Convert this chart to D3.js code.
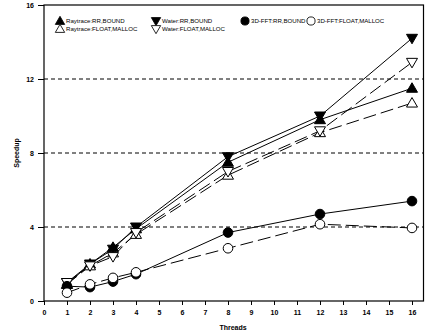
<!DOCTYPE html>
<html>
<head>
<meta charset="utf-8">
<script src="https://cdn.jsdelivr.net/npm/d3@7"></script>
<style>
  html, body { margin: 0; padding: 0; background: #fff; }
  svg { display: block; }
  text { font-family: "Liberation Sans", Arial, sans-serif; fill: #000; }
</style>
</head>
<body>
<svg id="chart" width="432" height="336"></svg>
<script>
// Thread counts measured
const threads = [1, 2, 3, 4, 8, 12, 16];

// Speedup per benchmark / configuration
const raytraceRR    = [0.9, 2.0, 2.9, 3.9, 7.5, 9.8, 11.5];
const raytraceFloat = [0.9, 1.9, 2.6, 3.6, 6.8, 9.1, 10.7];
const waterRR       = [1.0, 2.0, 2.8, 4.0, 7.8, 10.0, 14.2];
const waterFloat    = [1.0, 1.9, 2.4, 3.7, 7.0, 9.2, 12.9];
const fftRR         = [0.8, 0.75, 1.05, 1.45, 3.7, 4.7, 5.4];
const fftFloat      = [0.45, 0.9, 1.25, 1.55, 2.85, 4.15, 3.95];

const seriesNames = [
  "Raytrace:RR,BOUND", "Raytrace:FLOAT,MALLOC",
  "Water:RR,BOUND", "Water:FLOAT,MALLOC",
  "3D-FFT:RR,BOUND", "3D-FFT:FLOAT,MALLOC"
];

const xTicks = d3.range(0, 17);
const yTicks = [0, 4, 8, 12, 16];

const series = [
  { name: seriesNames[0], values: raytraceRR,    shape: "up",     fill: "#000", dash: null },
  { name: seriesNames[1], values: raytraceFloat, shape: "up",     fill: "#fff", dash: "13,5" },
  { name: seriesNames[2], values: waterRR,       shape: "down",   fill: "#000", dash: null },
  { name: seriesNames[3], values: waterFloat,    shape: "down",   fill: "#fff", dash: "13,5" },
  { name: seriesNames[4], values: fftRR,         shape: "circle", fill: "#000", dash: null },
  { name: seriesNames[5], values: fftFloat,      shape: "circle", fill: "#fff", dash: "13,5" }
];

const svg = d3.select("#chart");
const plotLeft = 44, plotRight = 423.5, plotTop = 5, plotBottom = 301;

const x = d3.scaleLinear().domain([0, 16.5]).range([plotLeft, plotRight]);
const y = d3.scaleLinear().domain([0, 16]).range([plotBottom, plotTop]);

// Dashed reference lines
svg.append("g")
  .selectAll("line")
  .data(yTicks.filter(v => v > 0 && v < 16))
  .join("line")
  .attr("x1", plotLeft).attr("x2", plotRight)
  .attr("y1", d => y(d)).attr("y2", d => y(d))
  .attr("stroke", "#000").attr("stroke-width", 1)
  .attr("stroke-dasharray", "4,3");

// Frame
svg.append("rect")
  .attr("x", plotLeft).attr("y", plotTop)
  .attr("width", plotRight - plotLeft).attr("height", plotBottom - plotTop)
  .attr("fill", "none").attr("stroke", "#000").attr("stroke-width", 1.2);

// Axes
const xAxis = d3.axisBottom(x).tickValues(xTicks).tickSize(4).tickPadding(5).tickFormat(d3.format("d"));
const gx = svg.append("g").attr("transform", `translate(0,${plotBottom})`).call(xAxis);
gx.select(".domain").remove();
gx.selectAll("text").attr("font-size", 7).attr("font-weight", "bold");

const yAxis = d3.axisLeft(y).tickValues(yTicks).tickSize(6).tickPadding(4).tickFormat(d3.format("d"));
const gy = svg.append("g").attr("transform", `translate(${plotLeft},0)`).call(yAxis);
gy.select(".domain").remove();
gy.selectAll("text").attr("font-size", 7).attr("font-weight", "bold");

// Axis titles
svg.append("text").attr("x", 233).attr("y", 330)
  .attr("text-anchor", "middle").attr("font-size", 7).attr("font-weight", "bold")
  .text("Threads");
svg.append("text")
  .attr("transform", "translate(19,153) rotate(-90)")
  .attr("text-anchor", "middle").attr("font-size", 7).attr("font-weight", "bold")
  .text("Speedup");

// Marker shapes
const triUp = "M0,-5.5L5.5,4L-5.5,4Z";
const triDown = "M0,5.5L5.5,-4L-5.5,-4Z";
function drawMarker(g, shape, fill) {
  if (shape === "circle") {
    g.append("circle").attr("r", 4.8).attr("fill", fill).attr("stroke", "#000").attr("stroke-width", 1);
  } else {
    g.append("path").attr("d", shape === "up" ? triUp : triDown)
      .attr("fill", fill).attr("stroke", "#000").attr("stroke-width", 1);
  }
}

const line = d3.line().x((d, i) => x(threads[i])).y(d => y(d));

series.forEach(s => {
  svg.append("path")
    .attr("d", line(s.values))
    .attr("fill", "none").attr("stroke", "#000").attr("stroke-width", 1)
    .attr("stroke-dasharray", s.dash);
});

series.forEach(s => {
  s.values.forEach((v, i) => {
    const g = svg.append("g").attr("transform", `translate(${x(threads[i])},${y(v)})`);
    drawMarker(g, s.shape, s.fill);
  });
});

// Legend
const legendItems = [
  { s: series[0], mx: 60, my: 21 },
  { s: series[1], mx: 60, my: 29 },
  { s: series[2], mx: 156, my: 21 },
  { s: series[3], mx: 156, my: 29 },
  { s: series[4], mx: 245, my: 21 },
  { s: series[5], mx: 311, my: 21 }
];
legendItems.forEach(it => {
  const g = svg.append("g").attr("transform", `translate(${it.mx},${it.my})`);
  const m = g.append("g").attr("transform", "scale(0.85)");
  drawMarker(m, it.s.shape, it.s.fill);
  g.append("text").attr("x", 6).attr("y", 2.3)
    .attr("font-size", 6.1).attr("font-weight", "normal")
    .text(it.s.name);
});
</script>
</body>
</html>
